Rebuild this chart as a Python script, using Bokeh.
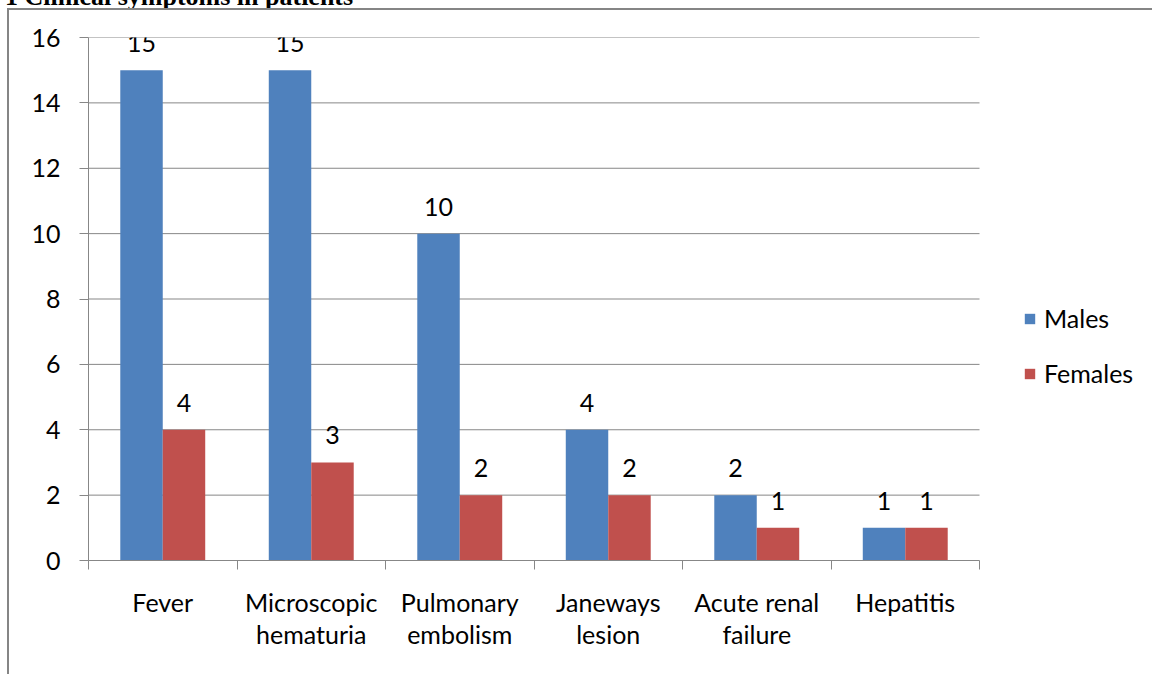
from bokeh.plotting import figure
from bokeh.layouts import column
from bokeh.models import (Range1d, FixedTicker, ColumnDataSource, Legend, LegendItem, Div)
from bokeh.embed import file_html
from bokeh.resources import INLINE
from bokeh.core.properties import value
import numpy as np

categories = ["Fever", "Microscopic\nhematuria", "Pulmonary\nembolism",
              "Janeways\nlesion", "Acute renal\nfailure", "Hepatitis"]
males = [15, 15, 10, 4, 2, 1]
females = [4, 3, 2, 2, 1, 1]
y_ticks = [0, 2, 4, 6, 8, 10, 12, 14, 16]
series_names = ["Males", "Females"]
title_text = "1 Clinical symptoms in patients"

BLUE = "#4F81BD"
RED = "#C0504D"
GRID = "#878787"
FONT = "Lato"
FS = "25px"

n = len(categories)
centers = np.arange(n) + 0.5
bw = 0.286
# the plotting frame runs on to the right edge so that the legend is not clipped;
# the category area itself keeps 891 of its 1066 px
x_end = n * 1066 / 891

p = figure(width=1145, height=666, output_backend="svg", toolbar_location=None,
           x_range=Range1d(0, x_end), y_range=Range1d(0, 16),
           min_border_left=79, min_border_right=0, min_border_top=27,
           min_border_bottom=116, margin=(8, 0, 0, 7),
           styles={"border-left": "2px solid #858585", "border-top": "2px solid #858585"})
p.outline_line_color = None
p.background_fill_color = "white"
p.border_fill_color = "white"

# horizontal grid lines over the category area only
grid_levels = y_ticks[1:]
p.segment(x0=[0] * len(grid_levels), x1=[n] * len(grid_levels), y0=grid_levels,
          y1=grid_levels, line_color=GRID, line_width=1)

src_m = ColumnDataSource(dict(x=centers - bw / 2, top=males, lab=[str(v) for v in males]))
src_f = ColumnDataSource(dict(x=centers + bw / 2, top=females, lab=[str(v) for v in females]))

rm = p.vbar(x="x", top="top", bottom=0, width=bw, source=src_m, fill_color=BLUE, line_color=None)
rf = p.vbar(x="x", top="top", bottom=0, width=bw, source=src_f, fill_color=RED, line_color=None)

for src in (src_m, src_f):
    p.text(x="x", y="top", text="lab", source=src, text_align="center",
           text_baseline="alphabetic", y_offset=-27, text_font=value(FONT),
           text_font_size=FS, text_color="black")

# axes
p.xaxis.bounds = (0, n)
p.xaxis.ticker = FixedTicker(ticks=list(centers), minor_ticks=list(range(n + 1)))
p.xaxis.major_label_overrides = {float(c): lab for c, lab in zip(centers, categories)}
p.xaxis.major_tick_line_color = None
p.xaxis.minor_tick_line_color = GRID
p.xaxis.minor_tick_out = 9
p.xaxis.minor_tick_in = 0
p.xaxis.axis_line_color = GRID
p.xaxis.major_label_standoff = 17
p.xaxis.major_label_text_font = FONT
p.xaxis.major_label_text_font_size = FS
p.xaxis.major_label_text_color = "black"
p.xaxis.major_label_text_line_height = 1.08

p.yaxis.ticker = FixedTicker(ticks=y_ticks)
p.yaxis.major_tick_line_color = GRID
p.yaxis.major_tick_out = 9
p.yaxis.major_tick_in = 0
p.yaxis.minor_tick_line_color = None
p.yaxis.axis_line_color = GRID
p.yaxis.major_label_standoff = 19
p.yaxis.major_label_text_font = FONT
p.yaxis.major_label_text_font_size = FS
p.yaxis.major_label_text_color = "black"

p.xgrid.grid_line_color = None
p.ygrid.grid_line_color = None

legend = Legend(items=[LegendItem(label=series_names[0], renderers=[rm]),
                       LegendItem(label=series_names[1], renderers=[rf])],
                location=(935, 172), orientation="vertical",
                glyph_width=13, glyph_height=13, label_text_font=FONT,
                label_text_font_size=FS, label_text_color="black",
                spacing=25, padding=0, margin=0, label_standoff=8,
                border_line_color=None, background_fill_alpha=0)
p.add_layout(legend, "center")

caption = Div(text=title_text, width=420, height=30,
              styles={"position": "absolute", "top": "-21px", "left": "0px",
                      "font-family": "Liberation Serif", "font-weight": "bold",
                      "font-size": "26px", "line-height": "26px", "color": "black",
                      "white-space": "nowrap"})

layout = column(caption, p, spacing=0)

open("out.html", "w").write(file_html(layout, INLINE))
